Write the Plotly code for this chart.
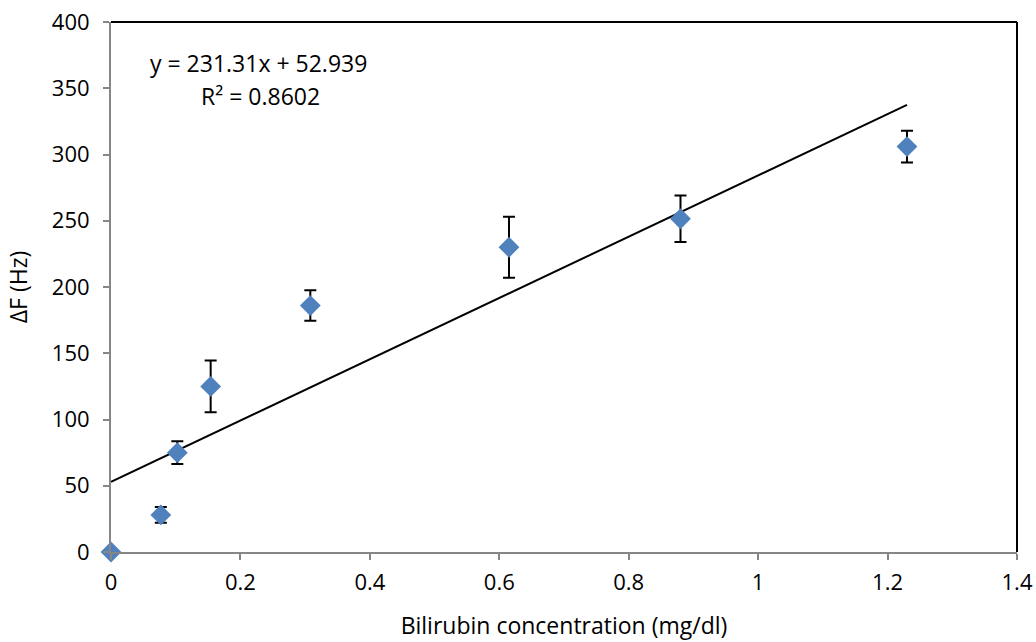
import plotly.graph_objects as go

# Data
conc = [0.0, 0.077, 0.1025, 0.154, 0.308, 0.615, 0.88, 1.23]
delta_f = [0, 28, 75, 125, 186, 230, 251.5, 306]
err = [0, 6, 8.5, 19.5, 11.5, 23, 17.5, 12]

slope = 231.31
intercept = 52.939
eq_text = "y = 231.31x + 52.939"
r2_text = "R² = 0.8602"

x_ticks = [0, 0.2, 0.4, 0.6, 0.8, 1, 1.2, 1.4]
x_tick_labels = ["0", "0.2", "0.4", "0.6", "0.8", "1", "1.2", "1.4"]
y_ticks = [0, 50, 100, 150, 200, 250, 300, 350, 400]

FONT = "Open Sans, Lato, sans-serif"

W, H = 1036, 642
L, R, T, B = 111, 19, 22, 90
PW, PH = W - L - R, H - T - B

fit_x = [min(conc), max(conc)]
fit_y = [slope * v + intercept for v in fit_x]

fig = go.Figure()
fig.add_trace(go.Scatter(
    x=fit_x, y=fit_y, mode="lines",
    line=dict(color="black", width=2), showlegend=False, hoverinfo="skip"))
fig.add_trace(go.Scatter(
    x=conc, y=delta_f, mode="markers", cliponaxis=False,
    marker=dict(symbol="diamond", size=16, color="#4F81BD"),
    error_y=dict(type="data", array=err, visible=True, color="black",
                 thickness=2, width=6),
    showlegend=False))

fig.add_annotation(xref="paper", yref="paper", x=(258 - 111) / PW, y=(552 - 63) / PH,
                   text=eq_text, showarrow=False, font=dict(family=FONT, size=23, color="black"),
                   xanchor="center", yanchor="middle")
fig.add_annotation(xref="paper", yref="paper", x=(260 - 111) / PW, y=(552 - 96) / PH,
                   text=r2_text, showarrow=False, font=dict(family=FONT, size=23, color="black"),
                   xanchor="center", yanchor="middle")

# Top and right frame lines
fig.add_shape(type="line", xref="paper", yref="paper", x0=0, x1=1, y0=1, y1=1,
              line=dict(color="black", width=2))
fig.add_shape(type="line", xref="paper", yref="paper", x0=1, x1=1, y0=0, y1=1,
              line=dict(color="black", width=2))

fig.update_layout(
    width=W, height=H,
    margin=dict(l=L, r=R, t=T, b=B),
    paper_bgcolor="white", plot_bgcolor="white",
    font=dict(family=FONT, size=22, color="black"),
    xaxis=dict(range=[0, 1.4], tickvals=x_ticks, ticktext=x_tick_labels, automargin=False,
               showgrid=False, zeroline=False, showline=True, linecolor="#868686",
               linewidth=2, ticks="outside", tickcolor="#868686", ticklen=6, tickwidth=2,
               ticklabelstandoff=4, ticklabeloverflow="allow",
               title=dict(text="Bilirubin concentration (mg/dl)", font=dict(size=23), standoff=22)),
    yaxis=dict(range=[0, 400], tickvals=y_ticks, automargin=False,
               showgrid=False, zeroline=False, showline=True, linecolor="#868686",
               linewidth=2, ticks="outside", tickcolor="#868686", ticklen=6, tickwidth=2,
               ticklabelstandoff=9, ticklabeloverflow="allow",
               title=dict(text="ΔF (Hz)", font=dict(size=23), standoff=18)),
)

fig.write_html("out.html", config={"displayModeBar": False},
               post_script="document.body.style.margin='0';document.body.style.overflow='hidden';")
